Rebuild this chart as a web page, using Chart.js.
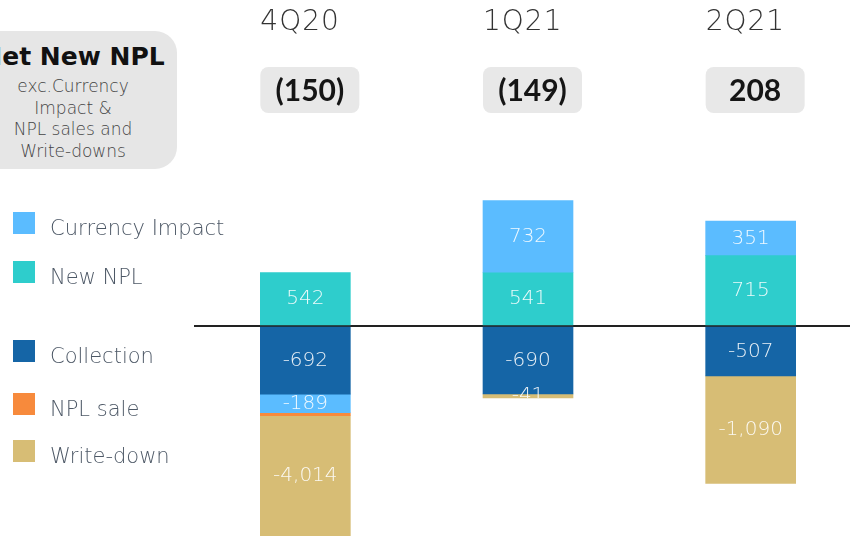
<!DOCTYPE html>
<html>
<head>
<meta charset="utf-8">
<script src="https://cdn.jsdelivr.net/npm/chart.js@4.4.1/dist/chart.umd.min.js"></script>
<style>
  html, body { margin: 0; padding: 0; background: #fff; overflow: hidden; width: 850px; height: 536px; }
  #wrap { position: absolute; left: 0; top: 0; width: 862px; height: 536px; }
  .titlebox {
    position: absolute; left: -31px; top: 31px; width: 208px; height: 138px;
    background: #e6e6e6; border-radius: 22px; text-align: center;
    font-family: "DejaVu Sans", sans-serif; color: #444;
  }
  .titlebox .main { font-size: 25px; font-weight: 700; color: #111; margin-top: 10px; line-height: 32px; white-space: nowrap; }
  .titlebox .sub { font-size: 17px; font-weight: 200; line-height: 21.5px; margin-top: 3px; }
  .legend { position: absolute; left: 0; top: 0; font-family: "DejaVu Sans", sans-serif; }
  .legend .item { position: absolute; left: 13px; height: 22px; white-space: nowrap; }
  .legend .sw { position: absolute; left: 0; top: 0; width: 22px; height: 22px; }
  .legend .lb { position: absolute; left: 37px; top: -1px; font-size: 21px; font-weight: 200; color: #4d5866; line-height: 34px; }
</style>
</head>
<body>
<div id="wrap"><canvas id="chart" width="862" height="536"></canvas></div>
<div class="titlebox">
  <div class="main">Net New NPL</div>
  <div class="sub">exc.Currency<br>Impact &amp;<br>NPL sales and<br>Write-downs</div>
</div>
<div class="legend" id="legend"></div>
<script>
const categories = ['4Q20', '1Q21', '2Q21'];
const newNpl = [542, 541, 715];
const collection = [-692, -690, -507];
const currencyImpact = [-189, 732, 351];
const nplSale = [-30, null, null];
const writeDown = [-4014, -41, -1090];
const netNpl = [-150, -149, 208];

const colors = {
  currency: '#5bbcff',
  newNpl: '#2ecdcc',
  collection: '#1565a6',
  nplSale: '#f78a3c',
  writeDown: '#d7bd75'
};

// legend on the left, same order and gaps as the slide
const legendItems = [
  { label: 'Currency Impact', color: colors.currency, top: 212 },
  { label: 'New NPL', color: colors.newNpl, top: 261 },
  { label: 'Collection', color: colors.collection, top: 340 },
  { label: 'NPL sale', color: colors.nplSale, top: 393 },
  { label: 'Write-down', color: colors.writeDown, top: 440 }
];
const legendEl = document.getElementById('legend');
legendItems.forEach(it => {
  const d = document.createElement('div');
  d.className = 'item';
  d.style.top = it.top + 'px';
  d.innerHTML = '<div class="sw" style="background:' + it.color + '"></div><div class="lb">' + it.label + '</div>';
  legendEl.appendChild(d);
});

const fmt = v => v.toLocaleString('en-US');
const fmtNet = v => v < 0 ? '(' + fmt(-v) + ')' : fmt(v);

// value labels inside the bars, clipped at the bar's lower edge
const barLabels = {
  id: 'barLabels',
  afterDatasetsDraw(chart) {
    const ctx = chart.ctx;
    const area = chart.chartArea;
    chart.data.datasets.forEach((ds, i) => {
      if (ds.noLabel) return;
      const meta = chart.getDatasetMeta(i);
      meta.data.forEach((bar, j) => {
        const v = ds.data[j];
        if (v === null || v === undefined) return;
        const top = Math.max(Math.min(bar.y, bar.base), area.top);
        const bottom = Math.min(Math.max(bar.y, bar.base), area.bottom);
        ctx.save();
        ctx.beginPath();
        ctx.rect(bar.x - bar.width / 2, 0, bar.width, bottom);
        ctx.clip();
        ctx.fillStyle = 'rgba(255,255,255,0.9)';
        ctx.font = '200 20px "DejaVu Sans", sans-serif';
        ctx.textAlign = 'center';
        ctx.textBaseline = 'middle';
        ctx.fillText(fmt(v), bar.x, (top + bottom) / 2);
        ctx.restore();
      });
    });
  }
};

// quarter names and net new NPL boxes above the bars
const header = {
  id: 'header',
  afterDraw(chart) {
    const ctx = chart.ctx;
    const x = chart.scales.x;
    categories.forEach((c, i) => {
      const left = x.getPixelForValue(i) - 45;
      ctx.save();
      ctx.fillStyle = '#333';
      ctx.font = '200 28px "DejaVu Sans", sans-serif';
      ctx.letterSpacing = '1px';
      ctx.textAlign = 'left';
      ctx.textBaseline = 'middle';
      ctx.fillText(c, left, 23);
      ctx.letterSpacing = '0px';
      ctx.fillStyle = '#e8e8e8';
      ctx.beginPath();
      ctx.roundRect(left, 67, 99, 46, 8);
      ctx.fill();
      ctx.fillStyle = '#151515';
      ctx.font = '700 30px Lato, "Open Sans", sans-serif';
      ctx.textAlign = 'center';
      ctx.fillText(fmtNet(netNpl[i]), left + 49.5, 91);
      ctx.restore();
    });
  }
};

new Chart(document.getElementById('chart'), {
  type: 'bar',
  data: {
    labels: categories,
    datasets: [
      { label: 'New NPL', data: newNpl, backgroundColor: colors.newNpl },
      { label: 'Collection', data: collection, backgroundColor: colors.collection },
      { label: 'Currency Impact', data: currencyImpact, backgroundColor: colors.currency },
      { label: 'NPL sale', data: nplSale, backgroundColor: colors.nplSale, noLabel: true },
      { label: 'Write-down', data: writeDown, backgroundColor: colors.writeDown }
    ]
  },
  options: {
    responsive: false,
    animation: false,
    layout: { padding: { left: 194, right: 0, top: 0, bottom: 0 } },
    datasets: { bar: { barThickness: 90, borderWidth: 0 } },
    scales: {
      x: { stacked: true, display: false },
      y: {
        stacked: true,
        min: -2132,
        max: 3310,
        z: 1,
        border: { display: false },
        ticks: { display: false },
        grid: {
          drawTicks: false,
          color: c => (c.tick && c.tick.value === 0) ? '#222' : 'rgba(0,0,0,0)',
          lineWidth: 2
        }
      }
    },
    plugins: {
      legend: { display: false },
      tooltip: { enabled: false }
    }
  },
  plugins: [barLabels, header]
});
</script>
</body>
</html>
